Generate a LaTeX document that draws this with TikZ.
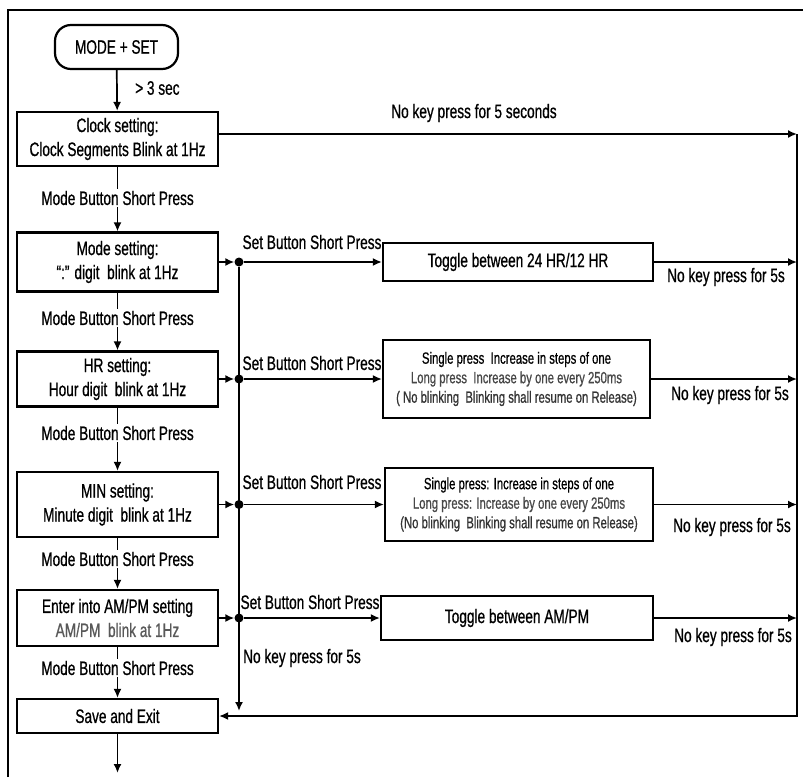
\documentclass[tikz,border=0pt]{standalone}
\usepackage{fontspec}
\setmainfont{Liberation Sans}[FakeStretch=0.70,FakeBold=0.7]
\usetikzlibrary{arrows.meta}
\newcommand\mainsz{\fontsize{19.5}{24}\selectfont}
\newcommand\smsz{\fontsize{16.2}{19.5}\selectfont}
\tikzset{
  box/.style={draw, line width=2.2pt, inner sep=0pt, align=center, font=\mainsz},
  sbox/.style={box, font=\smsz},
  lbl/.style={inner sep=2pt, font=\mainsz},
  conn/.style={line width=1.7pt, -{Latex[length=9pt,width=8pt]}},
  wire/.style={line width=1.7pt},
  jdot/.style={circle, fill, inner sep=0pt, minimum size=9pt},
}
\begin{document}
\begin{tikzpicture}[x=1pt,y=-1pt]
\useasboundingbox (0,0) rectangle (803,777);
\fill[white] (0,0) rectangle (803,777);
\draw[line width=2.8pt] (8,777) -- (8,10) -- (803,10);

% left column
\node[box, rounded corners=16pt, minimum width=123pt, minimum height=44pt] (start) at (116.5,47) {MODE + SET};
\node[box, minimum width=201pt, minimum height=54pt] (clock) at (117.5,139) {Clock setting:\\Clock Segments Blink at 1Hz};
\node[box, minimum width=201pt, minimum height=59pt] (mode) at (117.5,262) {Mode setting:\\“:” digit\ \ blink at 1Hz};
\node[box, minimum width=201pt, minimum height=55pt] (hr) at (117.5,379) {HR setting:\\Hour digit\ \ blink at 1Hz};
\node[box, minimum width=201pt, minimum height=65pt] (min) at (117.5,504.5) {MIN setting:\\Minute digit\ \ blink at 1Hz};
\node[box, minimum width=201pt, minimum height=56pt] (ampm) at (117.5,618) {Enter into AM/PM setting\\{\color{black!65}AM/PM\ \ blink at 1Hz}};
\node[box, minimum width=201pt, minimum height=34pt] (save) at (117.5,716) {Save and Exit};

% right boxes
\node[box, minimum width=270pt, minimum height=38pt] (tog24) at (518,262) {Toggle between 24 HR/12 HR};
\node[sbox, minimum width=267pt, minimum height=78pt] (inc1) at (516.5,379) {Single press\ \ Increase in steps of one\\{\color{black!72}Long press\ \ Increase by one every 250ms}\\{\color{black!80}( No blinking\ \ Blinking shall resume on Release)}};
\node[sbox, minimum width=268pt, minimum height=73pt] (inc2) at (519,504.5) {Single press: Increase in steps of one\\{\color{black!72}Long press: Increase by one every 250ms}\\{\color{black!80}(No blinking\ \ Blinking shall resume on Release)}};
\node[box, minimum width=272pt, minimum height=44pt] (togam) at (517,618) {Toggle between AM/PM};

% junction dots
\node[jdot] (d1) at (239,262) {};
\node[jdot] (d2) at (239,379) {};
\node[jdot] (d3) at (239,504.5) {};
\node[jdot] (d4) at (239,618) {};

% labels on the main column
\node[lbl, anchor=west] (gt3) at (133,88) {> 3 sec};
\node[lbl] (m1) at (117.5,198) {Mode Button Short Press};
\node[lbl] (m2) at (117.5,318) {Mode Button Short Press};
\node[lbl] (m3) at (117.5,433) {Mode Button Short Press};
\node[lbl] (m4) at (117.5,559) {Mode Button Short Press};
\node[lbl] (m5) at (117.5,668) {Mode Button Short Press};

\node[lbl] (s1) at (312,242) {Set Button Short Press};
\node[lbl] (s2) at (312,363) {Set Button Short Press};
\node[lbl] (s3) at (312,482) {Set Button Short Press};
\node[lbl] (s4) at (310,602) {Set Button Short Press};

\node[lbl] (nk0) at (474,113) {No key press for 5 seconds};
\node[lbl] (nk1) at (726,277) {No key press for 5s};
\node[lbl] (nk2) at (730,395) {No key press for 5s};
\node[lbl] (nk3) at (732,527) {No key press for 5s};
\node[lbl] (nk4) at (733,637) {No key press for 5s};
\node[lbl, anchor=west] (nk5) at (241,658) {No key press for 5s};

% coordinates
\coordinate (rT) at (797,134);
\coordinate (r1) at (797,262);
\coordinate (r2) at (797,379);
\coordinate (r3) at (797,504.5);
\coordinate (r4) at (797,618);
\coordinate (rB) at (797,716);
\coordinate (dEnd) at (239,711);
\coordinate (outEnd) at (117.5,773);

% main column connectors
\draw[conn] (start) -- (clock);
\draw[wire] (clock) -- (m1);
\draw[conn] (m1) -- (mode);
\draw[wire] (mode) -- (m2);
\draw[conn] (m2) -- (hr);
\draw[wire] (hr) -- (m3);
\draw[conn] (m3) -- (min);
\draw[wire] (min) -- (m4);
\draw[conn] (m4) -- (ampm);
\draw[wire] (ampm) -- (m5);
\draw[conn] (m5) -- (save);
\draw[conn] (save) -- (outEnd);

% to junctions
\draw[conn] (mode.east) -- (d1.west);
\draw[conn] (hr.east) -- (d2.west);
\draw[conn] (min.east) -- (d3.west);
\draw[conn] (ampm.east) -- (d4.west);
\draw[conn] (d1) -- (dEnd);

% junctions to right boxes
\draw[conn] (d1) -- (tog24.west);
\draw[conn] (d2) -- (inc1.west);
\draw[conn] (d3) -- (inc2.west);
\draw[conn] (d4) -- (togam.west);

% to the right return line
\draw[conn] (clock.east |- rT) -- (rT);
\draw[conn] (tog24.east) -- (r1);
\draw[conn] (inc1.east) -- (r2);
\draw[conn] (inc2.east) -- (r3);
\draw[conn] (togam.east) -- (r4);
\draw[conn] (rT) -- (rB) -- (save.east);
\end{tikzpicture}
\end{document}
